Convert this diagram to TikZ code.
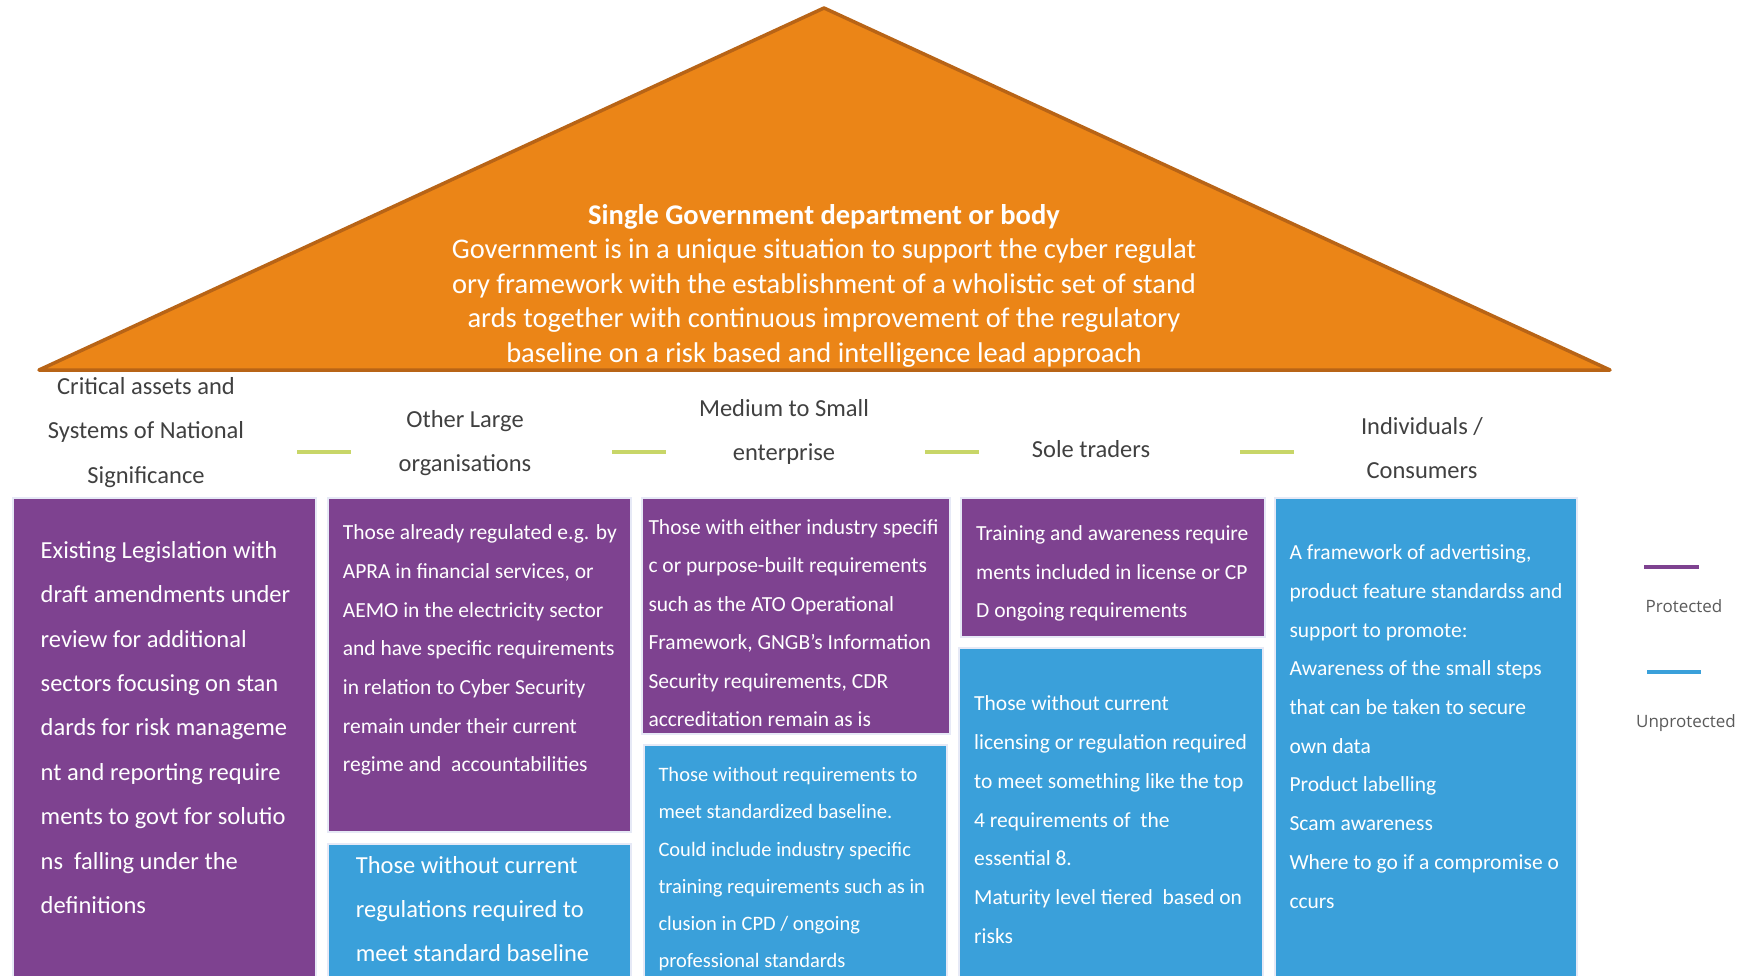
\documentclass[tikz,border=0pt]{standalone}
\usepackage{fontspec}
\setmainfont{Carlito}
\newfontfamily\legendfont{Open Sans}

\definecolor{roofcol}{RGB}{235,133,23}
\definecolor{roofedge}{RGB}{184,100,22}
\definecolor{protcol}{RGB}{126,66,144}
\definecolor{unprotcol}{RGB}{58,160,218}
\definecolor{sepcol}{RGB}{200,214,104}
\definecolor{lblcol}{RGB}{64,64,64}
\definecolor{legcol}{RGB}{90,90,90}
\definecolor{boxedge}{RGB}{230,233,246}

\begin{document}
\begin{tikzpicture}[
   x=1pt, y=-1pt,   % <-- pixel grid, origin top left
   every node/.append style={inner sep=0pt},
   roof/.style={fill=roofcol, draw=roofedge, line width=3.5pt, line join=round},
   protbox/.style={fill=protcol, draw=boxedge, line width=1.5pt},
   unprotbox/.style={fill=unprotcol, draw=boxedge, line width=1.5pt},
   sep/.style={draw=sepcol, line width=4.5pt},
   sector/.style={align=center, anchor=base, text=lblcol,
                  font=\fontsize{24.5}{44.5}\selectfont},
   boxtxt/.style={align=left, anchor=base west, text=white,
                  font=\fontsize{21.5}{38.7}\selectfont},
   legend/.style={text=legcol, font=\legendfont\fontsize{17}{20}\selectfont}
]
\useasboundingbox (0,0) rectangle (1744,976);
% (base anchors below sit on the last line of each text)

% roof
\draw[roof] (39,370) -- (824,8) -- (1610,370) -- cycle;
\node[align=center, anchor=base, text=white, font=\fontsize{28.5}{34.5}\selectfont]
   (gov) at (824,362)
   {\textbf{Single Government department or body}\\
    Government is in a unique situation to support the cyber regulat\\
    ory framework with the establishment of a wholistic set of stand\\
    ards together with continuous improvement of the regulatory\\
    baseline on a risk based and intelligence lead approach};

% sectors
\node[sector] (crit)  at (146,483)    {Critical assets and\\Systems of National\\Significance};
\node[sector] (large) at (465,471.5)  {Other Large\\organisations};
\node[sector] (sme)   at (784,460.5)  {Medium to Small\\enterprise};
\node[sector] (sole)  at (1091,457)   {Sole traders};
\node[sector] (indiv) at (1422,478.5) {Individuals /\\Consumers};
\foreach \xa in {297,612,925,1240}
   \draw[sep] (\xa,452) -- ++(54,0);

% columns
\draw[protbox]   (13,498)   rectangle (316,990);
\draw[protbox]   (328,498)  rectangle (631,832);
\draw[unprotbox] (328,844)  rectangle (631,990);
\draw[protbox]   (642,498)  rectangle (950,734);
\draw[unprotbox] (644,745)  rectangle (947,990);
\draw[protbox]   (961,498)  rectangle (1265,637);
\draw[unprotbox] (959,648)  rectangle (1263,990);
\draw[unprotbox] (1275,498) rectangle (1577,990);

\node[boxtxt, font=\fontsize{24.5}{44.4}\selectfont] (critprot) at (40.5,913.5)
   {Existing Legislation with\\draft amendments under\\review for additional\\
    sectors focusing on stan\\dards for risk manageme\\nt and reporting require\\
    ments to govt for solutio\\ns\ \ falling under the\\definitions};
\node[boxtxt] (largeprot) at (342.7,771.8)
   {Those already regulated e.g. by\\APRA in financial services, or\\
    AEMO in the electricity sector\\and have specific requirements\\
    in relation to Cyber Security\\remain under their current\\
    regime and\ \ accountabilities};
\node[boxtxt, font=\fontsize{24.5}{44}\selectfont] (largeunprot) at (355.7,961.1)
   {Those without current\\regulations required to\\meet standard baseline};
\node[boxtxt, font=\fontsize{21.5}{38.5}\selectfont] (smeprot) at (648.3,726.6)
   {Those with either industry specifi\\c or purpose-built requirements\\
    such as the ATO Operational\\Framework, GNGB’s Information\\
    Security requirements, CDR\\accreditation remain as is};
\node[boxtxt, font=\fontsize{20.5}{37.1}\selectfont] (smeunprot) at (658.3,967.3)
   {Those without requirements to\\meet standardized baseline.\\
    Could include industry specific\\training requirements such as in\\
    clusion in CPD / ongoing\\professional standards};
\node[boxtxt, font=\fontsize{21.5}{38.4}\selectfont] (soleprot) at (976,617.6)
   {Training and awareness require\\ments included in license or CP\\
    D ongoing requirements};
\node[boxtxt] (soleunprot) at (974,943.1)
   {Those without current\\licensing or regulation required\\
    to meet something like the top\\4 requirements of\ \ the\\essential 8.\\
    Maturity level tiered\ \ based on\\risks};
\node[boxtxt] (indivunprot) at (1289.3,908)
   {A framework of advertising,\\product feature standardss and\\
    support to promote:\\Awareness of the small steps\\that can be taken to secure\\
    own data\\Product labelling\\Scam awareness\\Where to go if a compromise o\\ccurs};

% legend
\draw[protcol, line width=4.5pt] (1644,567) -- (1699,567);
\node[legend] (prot) at (1684,606) {Protected};
\draw[unprotcol, line width=4.5pt] (1647,672) -- (1701,672);
\node[legend] (unprot) at (1686,723) {Unprotected};
\end{tikzpicture}
\end{document}
